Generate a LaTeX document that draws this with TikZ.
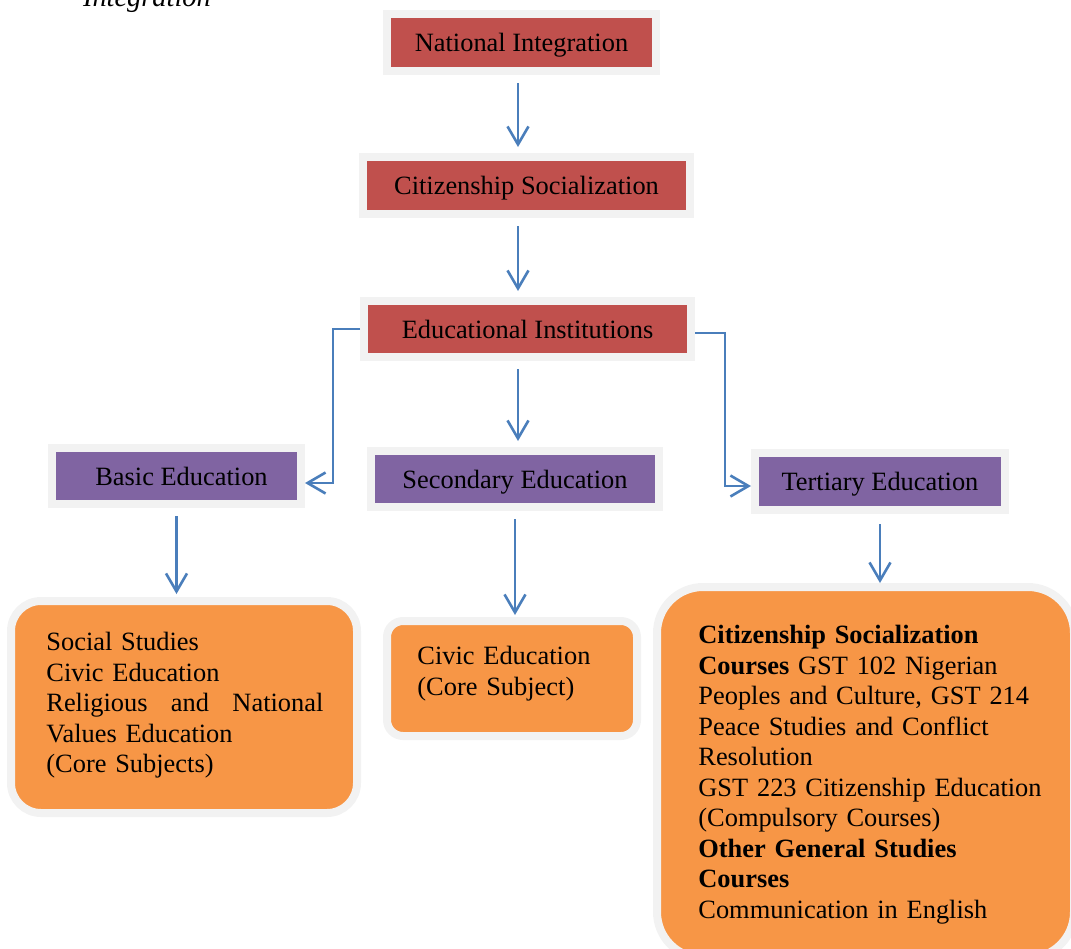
\documentclass[tikz,border=0pt]{standalone}
\usepackage{fontspec}
\setmainfont{Liberation Serif}
\usetikzlibrary{arrows.meta}
\definecolor{headred}{HTML}{C0504D}
\definecolor{levelpurple}{HTML}{8064A2}
\definecolor{courseorange}{HTML}{F79646}
\definecolor{framegrey}{HTML}{F2F2F2}
\definecolor{flowblue}{HTML}{4A7EBB}

\begin{document}
\begin{tikzpicture}[x=0.5pt,y=-0.5pt,
  every node/.style={font=\fontsize{13.2}{15.25}\selectfont},
  headbox/.style={draw=framegrey,line width=4pt,fill=headred,minimum height=28.5pt,text depth=0pt},
  levelbox/.style={draw=framegrey,line width=4pt,fill=levelpurple,minimum height=28pt,text depth=0pt},
  coursebox/.style={draw=framegrey,line width=4pt,fill=courseorange},
  courselist/.style={anchor=north west,inner sep=0pt,align=left},
  flow/.style={draw=flowblue,line width=1.3pt,-{Straight Barb[length=9pt,width=10.5pt]},
    shorten <=4pt,shorten >=3pt}]
  \clip (0,0) rectangle (1071,948);
  \path[use as bounding box] (0,0) rectangle (1071,948);

  \node[anchor=base west,font=\fontsize{14.2}{16}\selectfont\itshape] (caption) at (76,6) {Integration};

  \node[headbox,minimum width=134.5pt] (nat) at (521.5,42.5) {National Integration};
  \node[headbox,minimum width=163.5pt] (cit) at (526.5,185.5) {Citizenship Socialization};
  \node[headbox,minimum width=163.5pt,minimum height=28pt] (edu) at (527.5,329) {Educational Institutions};

  \node[levelbox,minimum width=124.5pt] (basic) at (176.5,476) {\hspace*{5pt}Basic Education};
  \node[levelbox,minimum width=144pt] (sec) at (515,479) {Secondary Education};
  \node[levelbox,minimum width=125pt,minimum height=28.5pt] (ter) at (880,481.5) {Tertiary Education};

  \node[coursebox,rounded corners=15pt,minimum width=173pt,minimum height=106pt] (basicsub) at (184,707) {};
  \node[coursebox,rounded corners=8pt,minimum width=125pt,minimum height=57.5pt] (secsub) at (512,678.5) {};
  \node[coursebox,rounded corners=23pt,minimum width=208.5pt,minimum height=185.5pt] (tersub) at (865.5,772.5) {};

  \node[courselist,text width=138.5pt] (basiclist) at (46,632)
    {Social Studies\\Civic Education\\Religious\hfill and\hfill National\\Values Education\\(Core Subjects)};
  \node[courselist,text width=110pt] (seclist) at (417,646)
    {Civic Education\\(Core Subject)};
  \node[courselist,text width=185pt] (terlist) at (698,625)
    {\textbf{Citizenship Socialization}\\
     \textbf{Courses} GST 102 Nigerian\\
     Peoples and Culture, GST 214\\
     Peace Studies and Conflict\\
     Resolution\\
     GST 223 Citizenship Education\\
     (Compulsory Courses)\\
     \textbf{Other General Studies}\\
     \textbf{Courses}\\
     Communication in English};

  % arrows
  \coordinate (spine) at (518,0);
  \draw[flow] (nat.south -| spine) -- (cit.north -| spine);
  \draw[flow] (cit.south -| spine) -- (edu.north -| spine);
  \draw[flow] (edu.south -| spine) -- (sec.north -| spine);
  \draw[flow,shorten <=0pt,shorten >=0pt] (edu.west) -- ++(-27,0) |- ([yshift=-3.5pt]basic.east);
  \draw[flow,shorten <=0pt,shorten >=0pt] ([yshift=-2pt]edu.east) -- ++(30,0) |- ([yshift=-2.25pt]ter.west);
  \draw[flow,shorten >=1.5pt] (basic.south) -- (basic.south |- basicsub.north);
  \draw[flow,shorten >=1pt] (sec.south) -- (sec.south |- secsub.north);
  \draw[flow,shorten <=5pt,shorten >=0pt] (ter.south) -- (ter.south |- tersub.north);
\end{tikzpicture}
\end{document}
